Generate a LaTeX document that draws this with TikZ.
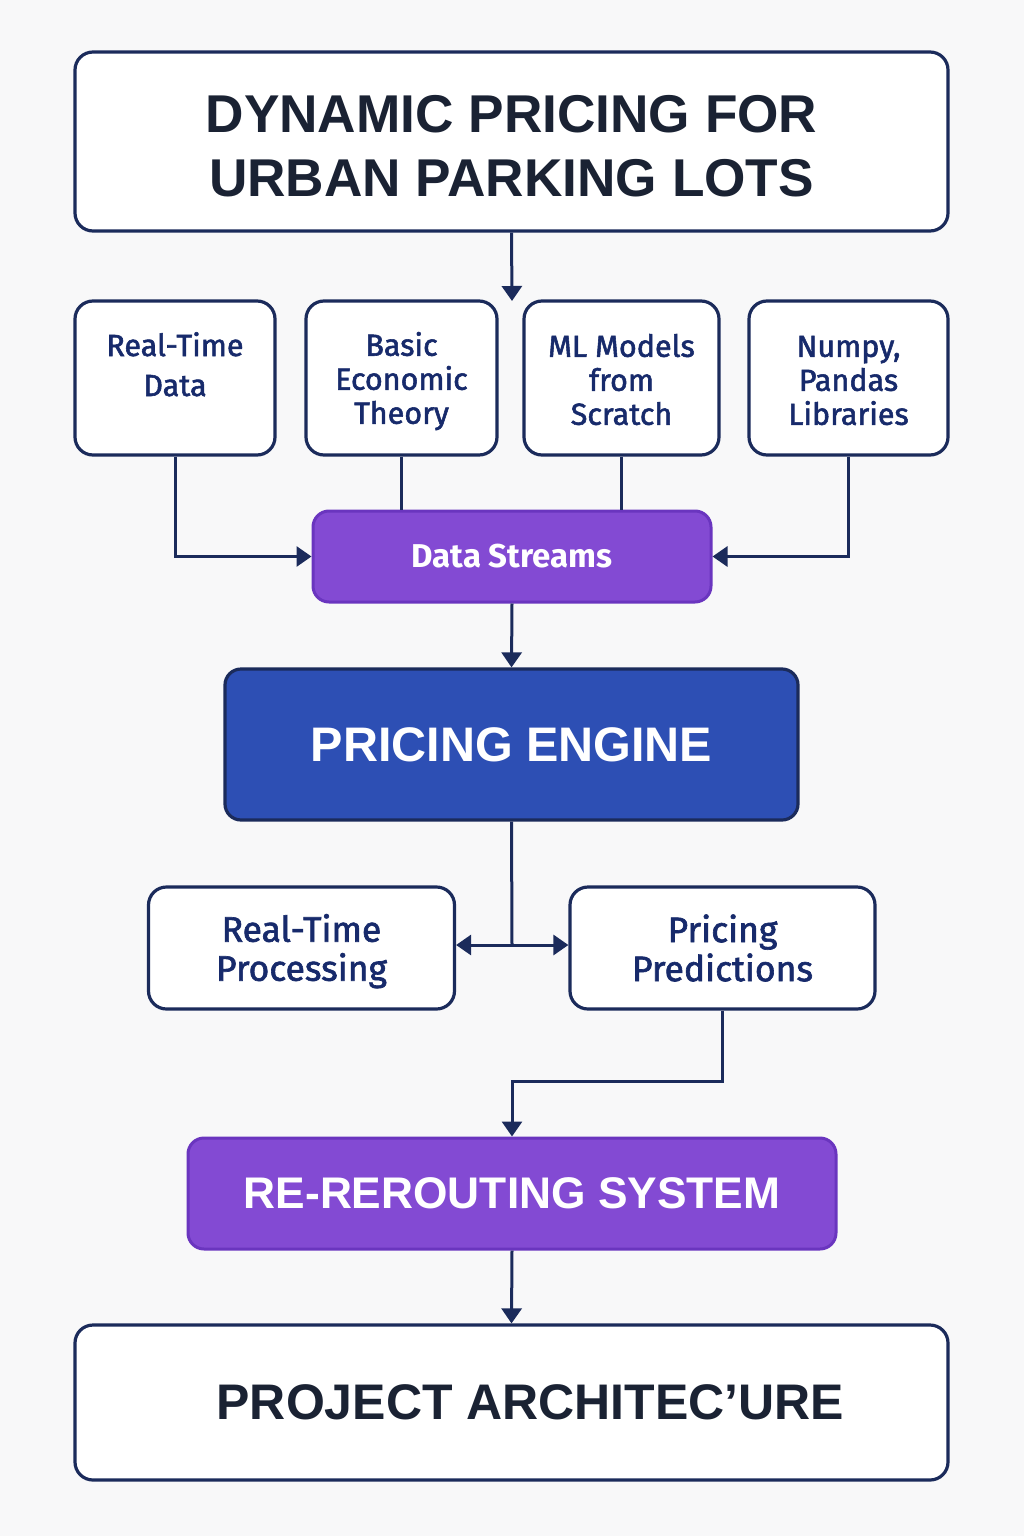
\documentclass[tikz,border=0pt]{standalone}
\usepackage{fontspec}
\setmainfont{Fira Sans}
\newfontfamily\medfont[FakeBold=1.8]{Fira Sans}
\newfontfamily\arialfont{Liberation Sans}
\newcommand\sbfont{\bfseries}
\newcommand\bdfont{\arialfont\bfseries}
\usetikzlibrary{arrows.meta}
\definecolor{bgc}{HTML}{F8F8F9}
\definecolor{navy}{HTML}{1B2B5B}
\definecolor{txtnavy}{HTML}{172A6B}
\definecolor{titletxt}{HTML}{1A2233}
\definecolor{purplefill}{HTML}{834AD3}
\definecolor{purpleline}{HTML}{6A35BF}
\definecolor{bluefill}{HTML}{2D4FB4}
\tikzset{
  box/.style={draw=navy, line width=3.2pt, fill=white, rounded corners=18pt, inner sep=0pt, align=center},
  rowbox/.style={box, minimum height=154pt, text=txtnavy, font=\medfont\fontsize{30.5}{34}\selectfont},
  midbox/.style={box, minimum width=306pt, minimum height=122pt, text=txtnavy, font=\medfont\fontsize{35.5}{39}\selectfont},
  purplebox/.style={draw=purpleline, line width=3pt, fill=purplefill, rounded corners=16pt, inner sep=0pt, align=center, text=white},
  conn/.style={draw=navy, line width=3pt},
  arr/.style={conn, -{Triangle[length=15pt,width=20pt]}},
}
\begin{document}
\begin{tikzpicture}[x=1pt,y=-1pt]
\useasboundingbox (0,0) rectangle (1024,1536);
\fill[bgc] (0,0) rectangle (1024,1536);

\node[box, minimum width=873pt, minimum height=179pt, text=titletxt,
      font=\bdfont\fontsize{53.2}{64}\selectfont] (title) at (511.5,141.5)
      {\rule{0pt}{46pt}DYNAMIC PRICING FOR\\URBAN PARKING LOTS};

\node[rowbox, minimum width=200pt] (b1) at (175,378) {\rule{0pt}{30pt}Real-Time\\[6pt]Data\\\phantom{X}};
\node[rowbox, minimum width=191pt] (b2) at (401.5,378) {\rule{0pt}{30pt}Basic\\Economic\\Theory};
\node[rowbox, minimum width=195pt] (b3) at (621.5,378) {\rule{0pt}{26pt}ML Models\\from\\Scratch};
\node[rowbox, minimum width=199pt] (b4) at (848.5,378) {\rule{0pt}{26pt}Numpy,\\Pandas\\Libraries};
\coordinate (rowtop) at (512,301);

\node[purplebox, minimum width=398pt, minimum height=91pt,
      font=\sbfont\fontsize{33}{38}\selectfont] (ds) at (512,556.5) {Data Streams};

\node[box, fill=bluefill, minimum width=573pt, minimum height=151pt, text=white,
      rounded corners=16pt, font=\bdfont\fontsize{48.5}{60}\selectfont] (pe) at (511.5,744.5) {PRICING ENGINE};

\node[midbox] (rtp) at (301.5,948) {\rule{0pt}{34pt}Real-Time\\Processing};
\node[midbox, minimum width=305pt] (pp) at (722.5,948) {Pricing\\Predictions};
\coordinate (split) at (512,945);

\node[purplebox, minimum width=648pt, minimum height=111pt,
      font=\bdfont\fontsize{44.3}{58}\selectfont] (rr) at (512,1193.5) {RE-REROUTING SYSTEM};

\node[box, minimum width=873pt, minimum height=155pt, text=titletxt,
      font=\bdfont\fontsize{50}{64}\selectfont] (pa) at (511.5,1402.5)
      {\hspace*{38pt}PROJECT ARCHITEC’URE};

\draw[arr] (title.south) -- (rowtop);
\draw[arr] (b1.south) |- (ds.west);
\draw[arr] (b4.south) |- (ds.east);
\draw[conn] (b2.south) -- (b2.south |- ds.north);
\draw[conn] (b3.south) -- (b3.south |- ds.north);
\draw[arr] (ds.south) -- (pe.north);
\draw[conn] (pe.south) -- (split);
\draw[arr] (split) -- (split -| rtp.east);
\draw[arr] (split) -- (split -| pp.west);
\draw[arr] (pp.south) -- ++(0,71) -| (rr.north);
\draw[arr] (rr.south) -- (pa.north);
\end{tikzpicture}
\end{document}
